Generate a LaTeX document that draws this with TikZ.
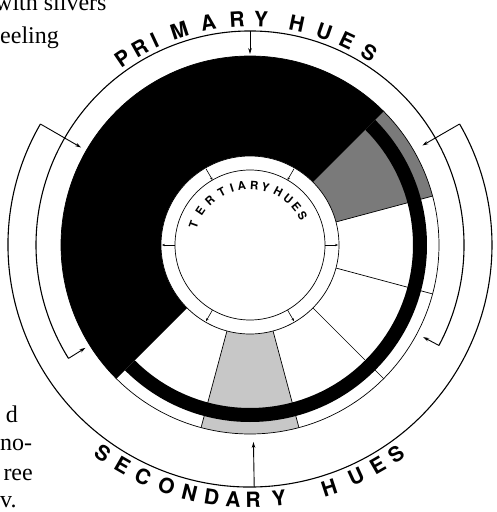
\documentclass[tikz,border=0pt]{standalone}
\usepackage{fontspec}
\setmainfont{Liberation Serif}
\newfontfamily\labelfont{TeX Gyre Heros}
\usetikzlibrary{arrows.meta}
\begin{document}
\begin{tikzpicture}[x=1pt,y=1pt,
  thinline/.style={line width=0.7pt},
  arcline/.style={line width=1.1pt},
  inarrow/.style={line width=0.9pt,-{Stealth[length=6pt,width=3.6pt]}},
  tickarrow/.style={line width=0.6pt,-{Stealth[length=3pt,width=2.4pt]}},
  bigletter/.style={font=\labelfont\bfseries\fontsize{21}{21}\selectfont, inner sep=0pt},
  smallletter/.style={font=\labelfont\bfseries\fontsize{11.5}{11.5}\selectfont, inner sep=0pt},
  bodytext/.style={font=\fontsize{24}{24}\selectfont, inner sep=0pt},
  darkhue/.style={fill=black!52},
  lighthue/.style={fill=black!22},
]
\useasboundingbox (-250,-267) rectangle (246,245);
\clip (-250,-267) rectangle (246,245);

% grey sectors
\path[darkhue] (15:89) arc[start angle=15,end angle=45,radius=89] -- (45:189)
  arc[start angle=45,end angle=15,radius=189] -- cycle;
\path[lighthue] (255:89) arc[start angle=255,end angle=285,radius=89] -- (285:189)
  arc[start angle=285,end angle=255,radius=189] -- cycle;
% black half
\fill[black] (45:89) arc[start angle=45,end angle=225,radius=89] -- (225:189)
  arc[start angle=225,end angle=45,radius=189] -- cycle;
% black ring
\fill[black] (-135:163) arc[start angle=-135,end angle=45,radius=163] -- (45:177)
  arc[start angle=45,end angle=-135,radius=177] -- cycle;
% sector boundaries
\foreach \a in {15,-15,-45,-75,-105} \draw[thinline] (\a:89) -- (\a:189);
\draw[thinline] (0,0) circle[radius=189];
\draw[thinline, fill=white] (0,0) circle[radius=89];
\draw[thinline] (0,0) circle[radius=75];
% tertiary ticks
\foreach \a in {60,120} {
  \coordinate (ta\a) at (\a:88); \coordinate (tb\a) at (\a:75);
  \draw[tickarrow] (ta\a) -- (tb\a);}
\foreach \a in {0,180,240,300} {
  \coordinate (ta\a) at (\a:75); \coordinate (tb\a) at (\a:88);
  \draw[tickarrow] (ta\a) -- (tb\a);}

% primary arc
\draw[arcline] (-28:214) arc[start angle=-28,end angle=212,radius=214];
\coordinate (p1) at (212:214); \coordinate (p1e) at (212:194);
\coordinate (p2) at (-28:214); \coordinate (p2e) at (-28:196);
\coordinate (p3) at (90:214);  \coordinate (p3e) at (90:191);
\draw[inarrow] (p1) -- (p1e);
\draw[inarrow] (p2) -- (p2e);
\draw[inarrow] (p3) -- (p3e);
% secondary arc
\draw[arcline] (150:242) arc[start angle=150,end angle=390,radius=242];
\coordinate (s1) at (150:242); \coordinate (s1e) at (150:195);
\coordinate (s2) at (30:242);  \coordinate (s2e) at (30:199);
\coordinate (s3) at (271:242); \coordinate (s3e) at (271:197);
\draw[inarrow] (s1) -- (s1e);
\draw[inarrow] (s2) -- (s2e);
\draw[inarrow] (s3) -- (s3e);

% PRIMARY HUES
\foreach \l/\a [count=\i] in {P/124.3,R/119.2,I/115,M/108.2,A/100.7,R/93.3,Y/87.2,H/78,U/70.8,E/64.6,S/58.2}
  \node[bigletter, rotate=\a-90] (pl\i) at (\a:226) {\l};
% SECONDARY HUES
\foreach \l/\a [count=\i] in {S/234.75,E/240,C/245.2,O/250.9,N/256.3,D/261.4,A/266.2,R/270.7,Y/276.5,H/288.1,U/294.6,E/300,S/304.9}
  \node[bigletter, rotate=\a-270] (sl\i) at (\a:255) {\l};
% TERTIARY HUES
\foreach \l/\a [count=\i] in {T/160,E/146,R/132,T/118,I/107.5,A/98,R/86,Y/75,H/62,U/50.5,E/39.5,S/29}
  \node[smallletter, rotate=\a-90] (tl\i) at (\a:60) {\l};

% body text fragments
\node[bodytext, anchor=base west] (b1) at (-255,235) {with silvers};
\node[bodytext, anchor=base west] (b2) at (-250,202) {eeling};
\node[bodytext, anchor=base east] (b3) at (-232,-177) {d};
\node[bodytext, anchor=base west] (b4) at (-250,-205) {no-};
\node[bodytext, anchor=base east] (b5) at (-217,-235) {ree};
\node[bodytext, anchor=base west] (b6) at (-250,-262) {v.};
\end{tikzpicture}
\end{document}
